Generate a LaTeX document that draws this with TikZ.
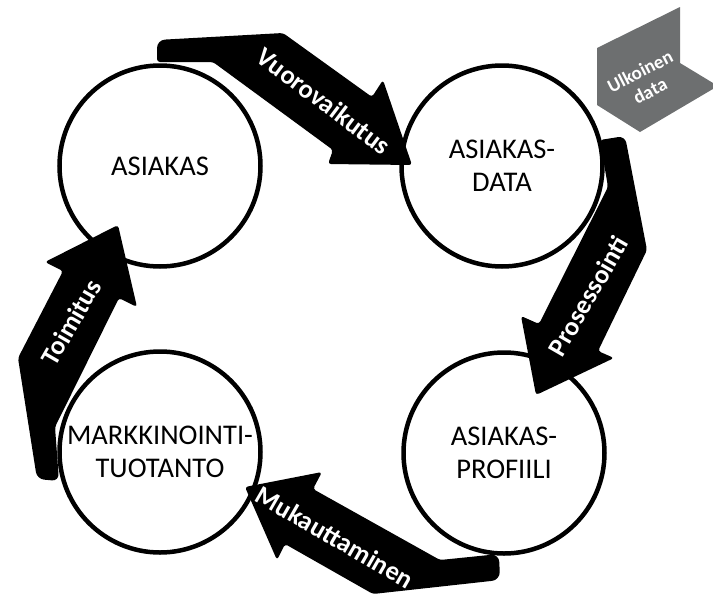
\documentclass[tikz,border=0pt]{standalone}
\usepackage{fontspec}
\setmainfont{Carlito}
\definecolor{extgray}{HTML}{6D6F70}
\begin{document}
\begin{tikzpicture}[x=1pt,y=-1pt,
  stage/.style={circle, draw=black, line width=4.5pt, fill=white,
    minimum size=201pt, inner sep=0pt, align=center,
    font=\fontsize{28.5}{33}\selectfont},
  flow/.style={fill=black, rounded corners=3pt},
  flowlabel/.style={text=white, inner sep=0pt,
    font=\bfseries\fontsize{26.5}{30}\selectfont},
]
\useasboundingbox (0,0) rectangle (713,595);
\clip (0,0) rectangle (713,595);

% the four stages of the cycle
\node[stage] (cust) at (160,166) {ASIAKAS};
\node[stage] (data) at (502,166) {ASIAKAS-\\DATA};
\node[stage] (prof) at (504,453) {ASIAKAS-\\PROFIILI};
\node[stage] (prod) at (160,452) {MARKKINOINTI-\\TUOTANTO};

% Vuorovaikutus: ASIAKAS -> ASIAKASDATA
\fill[flow] (213,62) -- (157,62) [rounded corners=8pt] -- (157,40)
  [rounded corners=3pt] -- (283,33) -- (372,97) -- (383,80) -- (412,165)
  -- (328,164) -- (333,150) -- cycle;
\node[flowlabel, rotate=-37] (lab1) at (324,101) {Vuorovaikutus};

% Prosessointi: ASIAKASDATA -> ASIAKASPROFIILI
\fill[flow] (608,187) -- (600,140) [rounded corners=7pt] -- (625,136)
  [rounded corners=3pt] -- (647,250) -- (598,351) -- (614,358) -- (536,395)
  -- (521,316) -- (539,324) -- cycle;
\node[flowlabel, rotate=60] (lab2) at (588,296) {Prosessointi};

% Mukauttaminen: ASIAKASPROFIILI -> MARKKINOINTITUOTANTO
\fill[flow] (440,560) -- (313,489) -- (322,472) -- (245,487) -- (277,560)
  -- (285,544) -- (373,594) [rounded corners=8pt] -- (500,580) -- (499,554)
  [rounded corners=3pt] -- cycle;
\node[flowlabel, rotate=-30] (lab3) at (335,537) {Mukauttaminen};

% Toimitus: MARKKINOINTITUOTANTO -> ASIAKAS
\fill[flow] (55,427) -- (119,298) -- (137,307) -- (118,225) -- (45,262)
  -- (63,271) -- (18,358) [rounded corners=7pt] -- (37,479) -- (59,481)
  [rounded corners=3pt] -- cycle;
\node[flowlabel, rotate=60] (lab4) at (71,322) {Toimitus};

% external data source
\fill[extgray] (597,48) -- (680,7) -- (680,63) -- (718,86) -- (640,132)
  -- (597,105) -- cycle;
\node[text=white, rotate=27, align=center, inner sep=0pt,
  font=\bfseries\fontsize{19}{22}\selectfont] (ext) at (645,81) {Ulkoinen\\data};
\end{tikzpicture}
\end{document}
